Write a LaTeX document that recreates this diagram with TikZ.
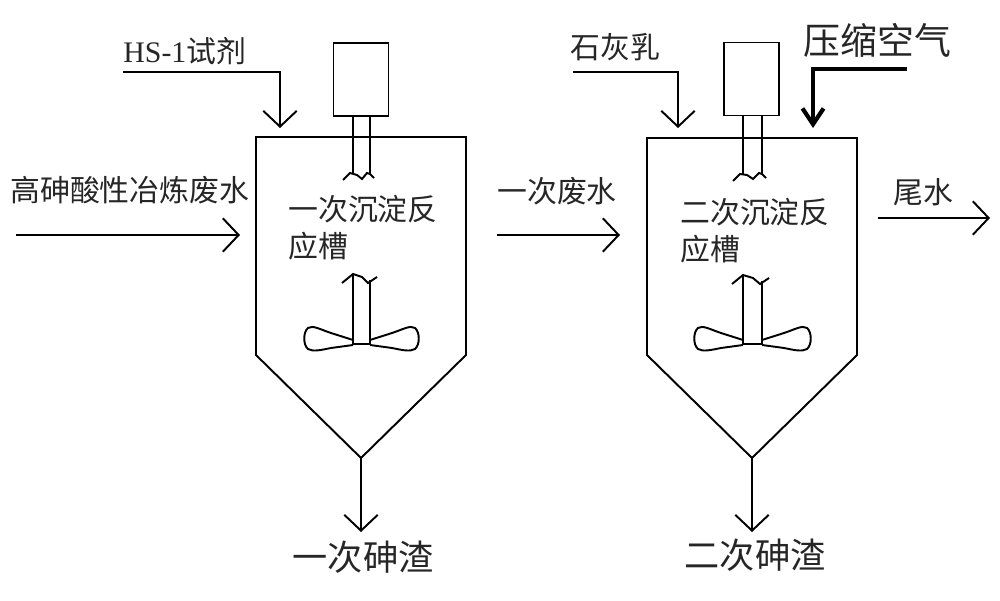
\documentclass[tikz,border=0pt]{standalone}
\usepackage{fontspec}
\newfontfamily\cjk{Noto Sans CJK SC}
\newfontfamily\hsfont{Liberation Serif}
\usetikzlibrary{arrows.meta}
\begin{document}
\begin{tikzpicture}[x=0.02cm,y=-0.02cm,
  wall/.style={line width=1.1pt, line join=miter},
  flow/.style={line width=1.1pt, -{Straight Barb[length=9pt,width=19pt,line width=1.1pt]}},
  air/.style={line width=2.4pt, -{Straight Barb[length=9pt,width=12pt,line width=2.4pt]}},
  lbl/.style={inner sep=0pt, anchor=west, text=black!85, font=\cjk\fontsize{17}{21}\selectfont},
  biglbl/.style={inner sep=0pt, text=black!85, font=\cjk\fontsize{20}{24}\selectfont},
  motor/.style={draw, line width=1.1pt, minimum width=1.1cm, minimum height=1.46cm, inner sep=0pt}]
\useasboundingbox (0,0) rectangle (1000,601);

\node[lbl] (feed) at (10,190) {高砷酸性冶炼废水};
\coordinate (feedA) at (16,235);
\coordinate (in1) at (240,235);
\draw[flow] (feedA) -- (in1);

\node[lbl] (hs) at (123,51) {{\hsfont HS-1}试剂};
\coordinate (hsA) at (123,72);
\coordinate (hsB) at (280,128);
\draw[flow] (hsA) -| (hsB);

\draw[wall] (256,137) -- (466,137) -- (466,355) -- (361,458) -- (256,355) -- cycle;
\coordinate (bot1) at (361,458);
\node[motor] (m1) at (361,79.5) {};
\node[lbl, align=left, anchor=north west] (tank1) at (288,195) {一次沉淀反\\应槽};
\begin{scope}[shift={(361,0)}]
\draw[wall] (-8,116) -- (-8,174);
\draw[wall] (9,116) -- (9,175);
\draw[wall] (-18,180) -- (-11,173) -- (-4,175) -- (1,179) -- (6,173) -- (9,174) -- (13,178);
\draw[wall] (-19,283) -- (-8,274) -- (1,277) -- (7,283) -- (16,277);
\draw[wall] (-8,274) -- (-8,344) -- (9,344) -- (9,280);
\draw[wall] (-8,340) -- (-30,333) .. controls (-42,329) and (-48,325) .. (-53,328) .. controls (-58,332) and (-58,345) .. (-53,349) .. controls (-48,352) and (-40,350) .. (-30,348) -- (-8,345);
\draw[wall] (9,340) -- (31,333) .. controls (43,329) and (49,325) .. (54,328) .. controls (59,332) and (59,345) .. (54,349) .. controls (49,352) and (41,350) .. (31,348) -- (9,345);
\end{scope}
\coordinate (slagA) at (361,532);
\draw[flow] (bot1) -- (slagA);
\node[biglbl] (slag1) at (363,557) {一次砷渣};

\node[lbl] (waste1) at (497,191) {一次废水};
\coordinate (w1A) at (497,235);
\coordinate (in2) at (620,235);
\draw[flow] (w1A) -- (in2);

\node[lbl] (lime) at (570,47) {石灰乳};
\coordinate (limeA) at (573,72);
\coordinate (limeB) at (678,128);
\draw[flow] (limeA) -| (limeB);

\node[biglbl, anchor=west, font=\cjk\fontsize{21}{25}\selectfont] (airlbl) at (803,40) {压缩空气};
\coordinate (airA) at (907,69);
\coordinate (airB) at (813,128);
\draw[air] (airA) -| (airB);

\draw[wall] (647,138) -- (857,138) -- (857,355) -- (752,458) -- (647,355) -- cycle;
\coordinate (bot2) at (752,458);
\node[motor] (m2) at (751.5,79) {};
\node[lbl, align=left, anchor=north west] (tank2) at (680,198) {二次沉淀反\\应槽};
\begin{scope}[shift={(752,0)}]
\draw[wall] (-9,115) -- (-9,174);
\draw[wall] (10,115) -- (10,175);
\draw[wall] (-19,181) -- (-12,174) -- (-5,175) -- (1,179) -- (7,173) -- (10,174) -- (14,178);
\draw[wall] (-20,284) -- (-9,275) -- (1,278) -- (8,284) -- (17,278);
\draw[wall] (-9,275) -- (-9,344) -- (10,344) -- (10,281);
\draw[wall] (-9,340) -- (-31,333) .. controls (-43,329) and (-49,325) .. (-54,328) .. controls (-59,332) and (-59,345) .. (-54,349) .. controls (-49,352) and (-41,350) .. (-31,348) -- (-9,345);
\draw[wall] (10,340) -- (32,333) .. controls (44,329) and (50,325) .. (55,328) .. controls (60,332) and (60,345) .. (55,349) .. controls (50,352) and (42,350) .. (32,348) -- (10,345);
\end{scope}
\coordinate (slagB) at (752,532);
\draw[flow] (bot2) -- (slagB);
\node[biglbl] (slag2) at (755,555) {二次砷渣};

\node[lbl] (tail) at (893,192) {尾水};
\coordinate (tailA) at (878,218);
\coordinate (tailB) at (990,218);
\draw[flow] (tailA) -- (tailB);
\end{tikzpicture}
\end{document}
